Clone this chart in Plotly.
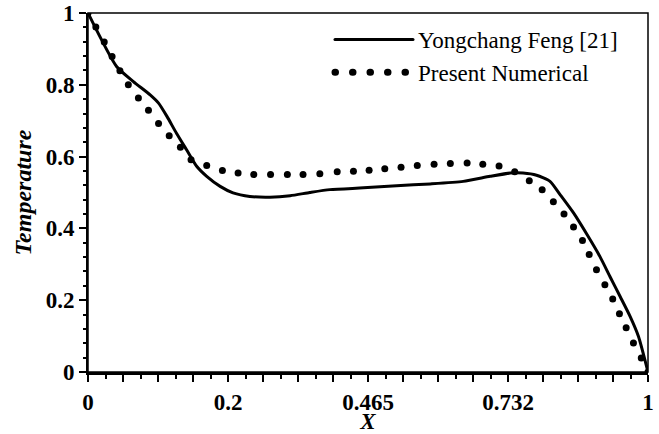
import plotly.graph_objects as go

# ---- data (x in axis units, 0..1) ----
feng_x = [0.0, 0.051, 0.081, 0.111, 0.126, 0.141, 0.158, 0.176, 0.194, 0.212, 0.236, 0.259,
          0.289, 0.325, 0.361, 0.396, 0.432, 0.492, 0.551, 0.611, 0.670, 0.718, 0.754, 0.777,
          0.801, 0.825, 0.843, 0.867, 0.893, 0.914, 0.932, 0.950, 0.968, 0.983, 1.0]
feng_y = [1.0, 0.851, 0.809, 0.772, 0.749, 0.712, 0.665, 0.619, 0.573, 0.545, 0.517, 0.499,
          0.489, 0.487, 0.491, 0.500, 0.508, 0.513, 0.519, 0.524, 0.531, 0.545, 0.554, 0.554,
          0.548, 0.531, 0.494, 0.443, 0.378, 0.322, 0.266, 0.211, 0.155, 0.099, 0.0]

present_x = [0.0, 0.014, 0.029, 0.043, 0.057, 0.072, 0.090, 0.108, 0.126, 0.145, 0.165, 0.184,
             0.212, 0.240, 0.268, 0.296, 0.326, 0.356, 0.384, 0.414, 0.445, 0.474, 0.502,
             0.530, 0.559, 0.588, 0.618, 0.647, 0.677, 0.705, 0.734, 0.762, 0.788, 0.811,
             0.831, 0.850, 0.867, 0.883, 0.895, 0.908, 0.923, 0.937, 0.949, 0.961, 0.974,
             0.988, 1.0]
present_y = [1.0, 0.961, 0.919, 0.879, 0.839, 0.800, 0.763, 0.729, 0.692, 0.658, 0.626, 0.591,
             0.575, 0.561, 0.554, 0.550, 0.550, 0.550, 0.550, 0.552, 0.558, 0.559, 0.562,
             0.566, 0.570, 0.575, 0.579, 0.581, 0.582, 0.579, 0.574, 0.558, 0.533, 0.508,
             0.474, 0.440, 0.404, 0.366, 0.327, 0.285, 0.243, 0.203, 0.162, 0.123, 0.081,
             0.039, 0.0]

x_major_step = 0.0625
x_tick_positions = [i * x_major_step for i in range(17)]
x_tick_labels = {0: "0", 4: "0.2", 8: "0.465", 12: "0.732", 16: "1"}
x_tick_text = [x_tick_labels.get(i, "") for i in range(17)]

y_tick_positions = [0, 0.2, 0.4, 0.6, 0.8, 1.0]
y_tick_text = ["0", "0.2", "0.4", "0.6", "0.8", "1"]

FONT = "Liberation Serif, Times New Roman, serif"

fig = go.Figure()
fig.add_trace(go.Scatter(
    x=feng_x, y=feng_y, mode="lines", name="Yongchang Feng [21]",
    line=dict(color="black", width=3, shape="spline", smoothing=0.6),
))
fig.add_trace(go.Scatter(
    x=present_x, y=present_y, mode="markers", name="Present Numerical",
    marker=dict(color="black", size=7), showlegend=False,
))
fig.add_trace(go.Scatter(
    x=[None], y=[None], mode="lines", name="Present Numerical",
    line=dict(color="black", width=7, dash="0.5px,17px"),
))

fig.update_layout(
    width=659, height=434,
    margin=dict(l=88, r=11, t=13, b=62, autoexpand=False),
    paper_bgcolor="white", plot_bgcolor="white",
    font=dict(family=FONT, color="black", size=22),
    showlegend=True,
    legend=dict(
        x=(330 - 88) / 560, y=1 - (18 - 13) / 359, xanchor="left", yanchor="top",
        bgcolor="rgba(0,0,0,0)", borderwidth=0,
        font=dict(family=FONT, size=23, color="black"),
        itemwidth=78, tracegroupgap=0,
    ),
    shapes=[dict(type="rect", xref="paper", yref="paper", x0=0, x1=1, y0=0, y1=1,
                 line=dict(color="black", width=1.5), layer="above")],
)

fig.update_xaxes(
    range=[0, 1], showgrid=False, zeroline=False, automargin=False,
    showline=True, linecolor="black", linewidth=3,
    tickmode="array", tickvals=x_tick_positions, ticktext=x_tick_text,
    ticks="outside", ticklen=7, tickwidth=2, tickcolor="black",
    minor=dict(ticks="outside", dtick=x_major_step / 2, tick0=0, ticklen=4,
               tickwidth=2, tickcolor="black"),
    tickfont=dict(family=FONT, size=23, color="black", weight="bold"),
    title=dict(text="<b><i>X</i></b>", font=dict(family=FONT, size=23, color="black"),
               standoff=8),
)
fig.update_yaxes(
    range=[0, 1], showgrid=False, zeroline=False, automargin=False,
    showline=True, linecolor="black", linewidth=2,
    tickmode="array", tickvals=y_tick_positions, ticktext=y_tick_text,
    ticksuffix="  \u2009",
    ticks="outside", ticklen=7, tickwidth=2, tickcolor="black",
    minor=dict(ticks="outside", dtick=0.04, tick0=0, ticklen=3,
               tickwidth=2, tickcolor="black"),
    tickfont=dict(family=FONT, size=23, color="black", weight="bold"),
    title=dict(text="<b><i>Temperature</i></b>", font=dict(family=FONT, size=24, color="black"),
               standoff=7),
)

post = ("document.body.style.margin='0';"
        "var g=document.getElementById('{plot_id}');"
        "g.querySelectorAll('.legendlines path').forEach(function(p){"
        "p.style.strokeLinecap='round';});")
fig.write_html("out.html", post_script=post, config={"displayModeBar": False})
